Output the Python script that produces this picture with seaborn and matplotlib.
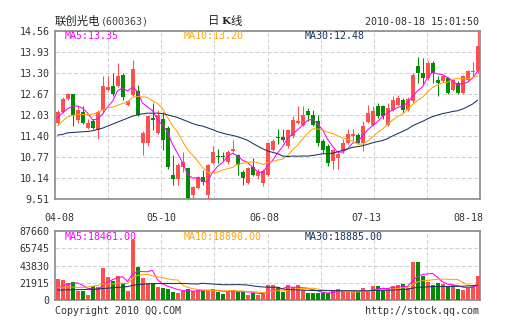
import numpy as np
import pandas as pd
import matplotlib
matplotlib.use("Agg")
import matplotlib.pyplot as plt
import seaborn as sns

# ---- daily bars: 联创光电 (600363) ----
opens = [11.80, 12.14, 12.52, 12.66, 11.88, 12.13, 11.64, 11.86, 11.58, 12.19,
         12.79, 12.91, 12.91, 13.24, 12.35, 12.65, 12.77, 11.19, 11.19, 11.94,
         11.50, 11.91, 11.64, 10.23, 10.11, 10.48, 10.44, 9.63, 9.84, 10.17,
         9.63, 10.58, 10.81, 10.81, 10.62, 10.95, 10.83, 10.33, 9.99, 10.48,
         10.20, 9.99, 10.23, 10.98, 11.37, 11.37, 11.10, 11.40, 11.80, 11.73,
         12.15, 12.05, 11.85, 11.25, 11.10, 10.66, 10.75, 10.95, 11.19, 11.40,
         11.43, 11.19, 11.82, 11.73, 12.31, 12.31, 11.73, 12.19, 12.34, 12.49,
         12.19, 12.46, 13.51, 13.30, 13.15, 13.60, 13.10, 13.06, 13.15, 12.79,
         13.00, 12.70, 13.09, 13.34, 13.36]
highs = [12.20, 12.58, 12.70, 12.68, 12.30, 12.30, 11.90, 11.90, 12.20, 13.22,
         13.21, 13.30, 13.59, 13.30, 12.50, 13.69, 12.94, 11.55, 12.05, 12.40,
         12.19, 12.13, 11.70, 10.83, 10.60, 10.93, 10.45, 9.90, 10.20, 10.38,
         10.55, 11.10, 11.00, 10.93, 10.98, 11.28, 10.85, 10.38, 10.47, 10.75,
         10.40, 10.40, 11.22, 11.30, 11.62, 11.62, 11.62, 12.00, 12.30, 12.30,
         12.25, 12.19, 12.04, 11.30, 11.15, 11.00, 10.95, 11.32, 11.62, 11.62,
         11.50, 11.85, 12.34, 12.30, 12.40, 12.35, 12.40, 12.60, 12.65, 12.55,
         12.58, 13.30, 13.78, 13.75, 13.65, 13.65, 13.22, 13.25, 13.18, 13.12,
         13.05, 13.25, 13.40, 13.62, 14.56]
lows = [11.72, 12.10, 12.48, 11.70, 11.78, 11.75, 11.60, 11.60, 11.31, 12.10,
        12.75, 12.60, 12.88, 12.50, 12.30, 12.60, 12.00, 10.83, 11.10, 11.58,
        11.45, 10.98, 10.40, 9.93, 9.93, 10.33, 9.51, 9.51, 9.80, 9.93,
        9.51, 10.55, 10.60, 10.65, 10.55, 10.93, 10.23, 9.93, 9.95, 10.20,
        10.10, 9.90, 10.20, 10.95, 11.15, 11.22, 11.05, 11.35, 11.75, 11.70,
        11.85, 11.70, 11.10, 10.90, 10.50, 10.40, 10.40, 10.90, 11.15, 11.25,
        11.15, 10.95, 11.78, 11.70, 11.95, 11.90, 11.70, 12.15, 12.30, 12.10,
        12.15, 12.40, 12.99, 12.95, 13.10, 13.00, 12.60, 13.02, 12.66, 12.75,
        12.66, 12.66, 13.05, 13.20, 13.30]
closes = [12.14, 12.52, 12.66, 12.03, 12.19, 11.80, 11.80, 11.64, 12.13, 12.92,
          12.87, 12.67, 13.21, 12.58, 12.45, 13.42, 12.04, 11.49, 12.00, 11.88,
          12.03, 11.28, 10.47, 10.11, 10.53, 10.63, 9.54, 9.88, 10.18, 10.02,
          10.53, 10.93, 10.78, 10.78, 10.93, 11.01, 10.53, 10.14, 10.44, 10.23,
          10.33, 10.35, 11.19, 11.25, 11.33, 11.28, 11.58, 11.88, 11.86, 12.03,
          12.03, 11.74, 11.19, 10.98, 10.59, 10.98, 10.85, 11.20, 11.46, 11.45,
          11.19, 11.70, 12.10, 12.15, 12.00, 12.00, 12.25, 12.50, 12.55, 12.19,
          12.52, 13.24, 13.30, 13.15, 13.60, 13.30, 13.00, 13.21, 12.70, 13.09,
          12.70, 13.21, 13.36, 13.36, 14.11]
volumes = [26680, 25400, 21175, 23290, 11860, 11860, 6350, 17790, 16090, 41080,
           29650, 24560, 30490, 22020, 11430, 76230, 42350, 28370, 21175, 20330,
           16940, 15670, 14400, 10590, 9320, 11010, 13550, 11430, 12700, 11430,
           12700, 13550, 10590, 7620, 11430, 12700, 10590, 10590, 6350, 9320,
           6350, 7620, 19060, 19060, 16090, 10590, 19060, 16090, 19060, 12700,
           8470, 9320, 9320, 8470, 8470, 11960, 14070, 10690, 10690, 9840,
           9840, 14920, 10690, 17460, 18310, 11960, 14920, 17460, 19160, 20430,
           14920, 47960, 47960, 31020, 23390, 19060, 22020, 20330, 16090, 19095,
           13500, 12500, 16500, 19000, 30805]

# moving-average values before the first full window (from earlier sessions)
ma5_head = [11.95, 12.10, 12.22, 12.30]
ma10_head = [11.70, 11.85, 11.98, 12.02, 12.05, 12.05, 12.05, 12.06, 12.10]
ma30_head = [11.43, 11.45, 11.50, 11.51, 11.52, 11.53, 11.54, 11.56, 11.60, 11.64,
             11.70, 11.76, 11.82, 11.88, 11.94, 12.00, 12.04, 12.07, 12.09, 12.09,
             12.09, 12.08, 12.04, 12.00, 11.96, 11.90, 11.84, 11.78, 11.73]
vma5_head = [15000, 18000, 20000, 21000]
vma10_head = [16000, 16500, 16500, 16500, 16000, 16000, 16500, 17500, 18500]
vma30_head = [12700, 12700, 12900, 13000, 13100, 13300, 13500, 13700, 14000, 14500,
              15000, 15500, 16000, 16500, 17000, 18500, 19500, 20000, 20500, 20800,
              21000, 21000, 21000, 21000, 21000, 21000, 20800, 20500, 20300]

date_labels = ["04-08", "05-10", "06-08", "07-13", "08-18"]
price_ticks = ["9.51", "10.14", "10.77", "11.40", "12.03", "12.67", "13.30", "13.93", "14.56"]
volume_ticks = ["0", "21915", "43830", "65745", "87660"]

RED = "#ff4f4f"
GREEN = "#008c00"
C_MA5 = "#ff00ff"
C_MA10 = "#ffa500"
C_MA30 = "#16365f"
FRAME = "#8a8a8a"
GRIDC = "#d2d2d2"
TXT = "#333333"
MONO = "DejaVu Sans Mono"

sns.set_theme(style="white")
plt.rcParams["font.family"] = ["Noto Sans CJK SC", "DejaVu Sans"]

df = pd.DataFrame({"open": opens, "high": highs, "low": lows,
                   "close": closes, "vol": volumes})
df["idx"] = np.arange(len(df))
df["dir"] = np.where(df["close"] >= df["open"], "up", "down")


def moving(series, n, head):
    m = series.rolling(n).mean().to_numpy()
    m[: n - 1] = head
    return m


for n, h, vh in [(5, ma5_head, vma5_head), (10, ma10_head, vma10_head),
                 (30, ma30_head, vma30_head)]:
    df[f"ma{n}"] = moving(df["close"], n, h)
    df[f"vma{n}"] = moving(df["vol"], n, vh)

W, H = 505, 330
fig = plt.figure(figsize=(W / 100, H / 100), dpi=100)
fig.patch.set_facecolor("white")
ax = fig.add_axes([55 / W, 1 - 199 / H, 425 / W, 168 / H])
axv = fig.add_axes([55 / W, 1 - 300 / H, 425 / W, 69 / H])

n = len(df)
xlo, xhi = -0.5, n - 0.5
grid_x = np.linspace(xlo, xhi, 9)[1:-1]
pcol = df["dir"].map({"up": RED, "down": GREEN})

# ---- candlesticks ----
body_lo = np.minimum(df["open"], df["close"])
body_h = np.maximum(np.abs(df["close"] - df["open"]), 0.03)
ax.vlines(df["idx"], df["low"], df["high"], colors=pcol, linewidth=0.75, zorder=3)
ax.bar(df["idx"], body_h, bottom=body_lo, width=0.8, color=pcol,
       linewidth=0, zorder=4)

for col, c in [("ma5", C_MA5), ("ma10", C_MA10), ("ma30", C_MA30)]:
    sns.lineplot(data=df, x="idx", y=col, color=c, linewidth=0.75, ax=ax, zorder=5)

ymin, ymax = float(price_ticks[0]), float(price_ticks[-1])
ax.set_ylim(ymin, ymax)
ax.set_yticks(np.linspace(ymin, ymax, len(price_ticks)), labels=price_ticks)

# ---- volume ----
sns.barplot(data=df, x="idx", y="vol", hue="dir", palette={"up": RED, "down": GREEN},
            native_scale=True, width=0.8, dodge=False, legend=False,
            saturation=1, linewidth=0, ax=axv, zorder=3)
for col, c in [("vma5", C_MA5), ("vma10", C_MA10), ("vma30", C_MA30)]:
    sns.lineplot(data=df, x="idx", y=col, color=c, linewidth=0.75, ax=axv, zorder=5)
vmax = float(volume_ticks[-1])
axv.set_ylim(0, vmax)
axv.set_yticks(np.linspace(0, vmax, len(volume_ticks)), labels=volume_ticks)

for a in (ax, axv):
    a.set_xlim(xlo, xhi)
    a.set_xlabel("")
    a.set_ylabel("")
    a.set_xticks(grid_x, labels=[])
    a.grid(True, color=GRIDC, linewidth=0.75, linestyle=(0, (4, 2)))
    a.set_axisbelow(True)
    a.tick_params(axis="both", which="both", length=0, pad=4, labelsize=7.2,
                  labelcolor=TXT)
    for lab in a.get_yticklabels():
        lab.set_fontfamily(MONO)
    for s in a.spines.values():
        s.set_color(FRAME)
        s.set_linewidth(1.2)
        s.set_visible(True)

ax.set_xticks(np.linspace(0.4, 82.2, len(date_labels)), labels=date_labels, minor=True)
ax.tick_params(axis="x", which="minor", pad=10)
for lab in ax.get_xticklabels(minor=True):
    lab.set_fontfamily(MONO)
    lab.set_fontsize(7.2)
    lab.set_color(TXT)


def ftext(x, y, s, **kw):
    fig.text(x / W, 1 - y / H, s, **kw)


mono = dict(family=MONO, fontsize=7.2, va="center")
last = df.iloc[-1]
ftext(65, 36, f"MA5:{last['ma5']:.2f}", color=C_MA5, **mono)
ftext(184, 36, f"MA10:{last['ma10']:.2f}", color=C_MA10, **mono)
ftext(305, 36, f"MA30:{last['ma30']:.2f}", color=C_MA30, **mono)
ftext(65, 237, f"MA5:{last['vma5']:.2f}", color=C_MA5, zorder=10, **mono)
ftext(184, 237, f"MA10:{last['vma10']:.2f}", color=C_MA10, zorder=10, **mono)
ftext(305, 237, f"MA30:{last['vma30']:.2f}", color=C_MA30, zorder=10, **mono)

ftext(55, 21, "联创光电", color="#222222", fontsize=8.2, va="center",
      family=["Noto Sans CJK SC", "DejaVu Sans"])
ftext(101, 21.5, "(600363)", color="#444444", family=MONO, fontsize=7.2, va="center")
ftext(208, 21, "日", color="#222222", fontsize=8.2, va="center",
      family=["Noto Sans CJK SC"])
ftext(221, 21, "K", color="#222222", fontsize=7.5, va="center",
      family=["DejaVu Serif"], fontweight="bold")
ftext(230, 21, "线", color="#222222", fontsize=8.2, va="center",
      family=["Noto Sans CJK SC"])
ftext(479, 22, "2010-08-18 15:01:50", color=TXT, ha="right", **mono)
ftext(55, 311, "Copyright 2010 QQ.COM", color=TXT, **mono)
ftext(479, 311, "http://stock.qq.com", color=TXT, ha="right", **mono)

fig.savefig("out.png", dpi=100, facecolor="white")
